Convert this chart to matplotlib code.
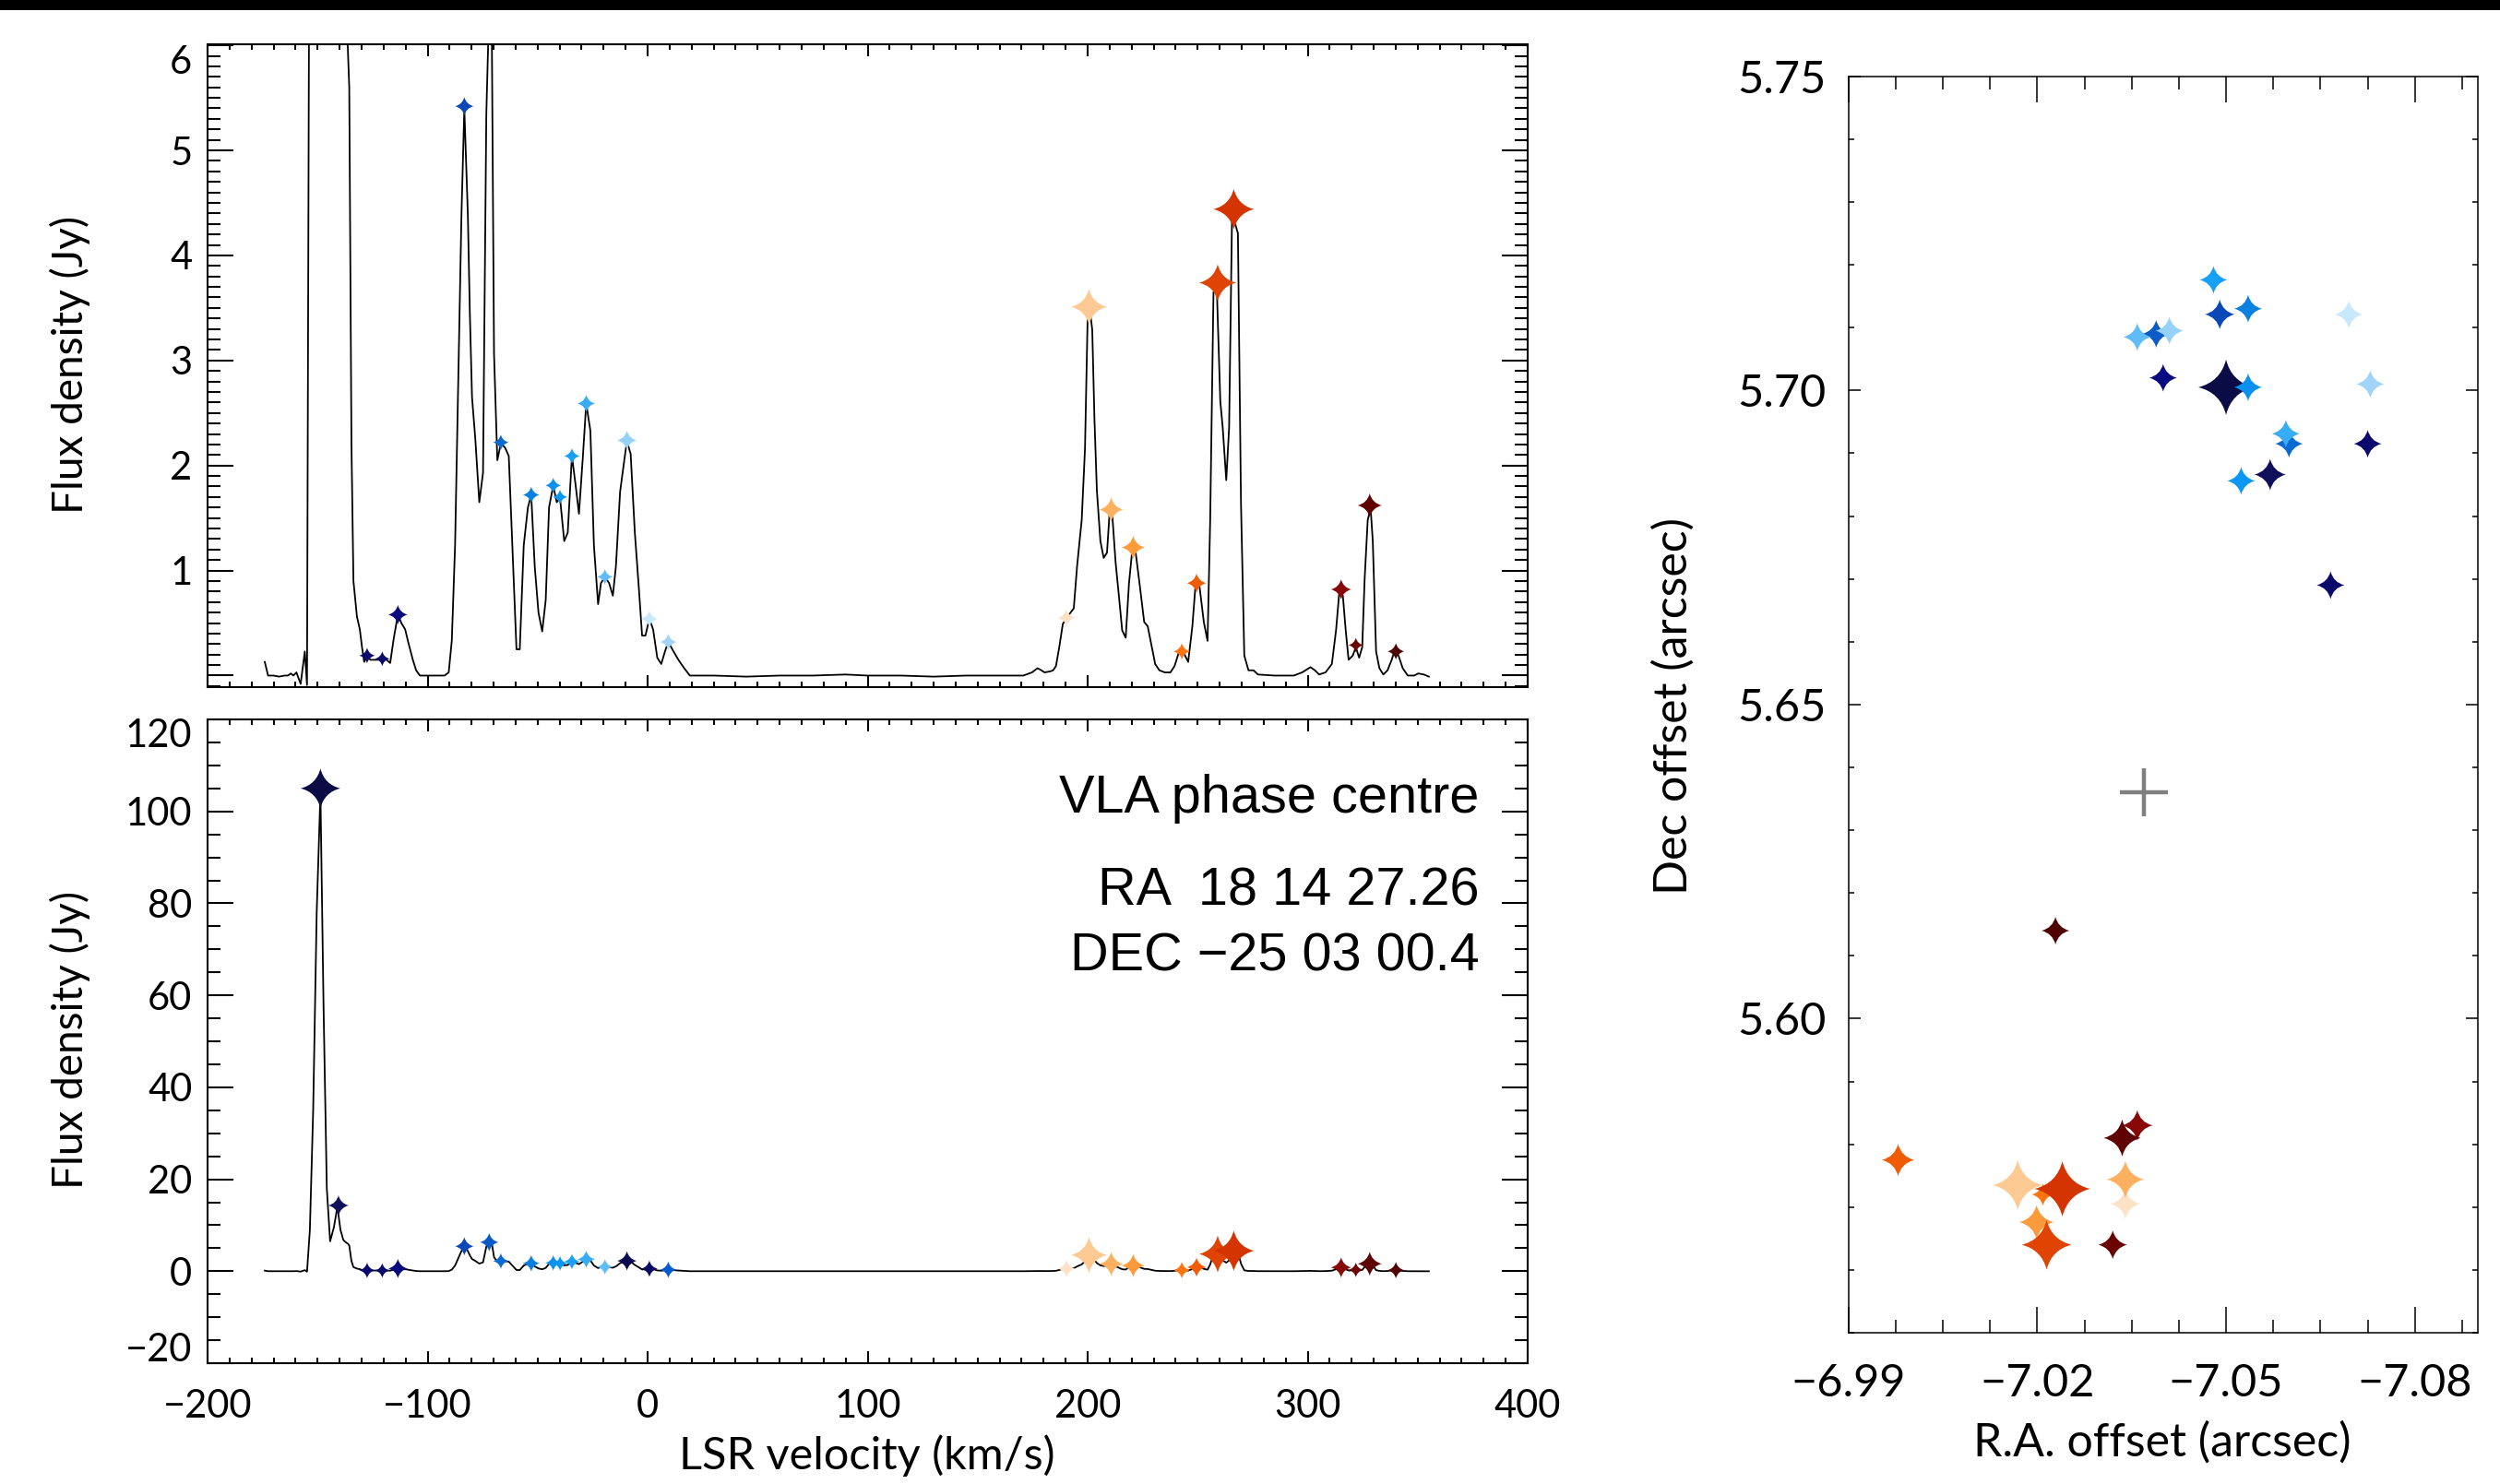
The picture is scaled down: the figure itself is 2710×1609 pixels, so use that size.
import matplotlib
matplotlib.use('Agg')
import matplotlib.pyplot as plt
from matplotlib.path import Path
from matplotlib.ticker import MultipleLocator, FixedLocator
from matplotlib.transforms import ScaledTranslation
from matplotlib.patches import Rectangle

# ---- spectrum (LSR velocity km/s, flux density Jy) ----
vel = [-174.0, -172.5, -170.0, -167.5, -165.0, -163.5, -162.1, -161.0, -159.6, -157.7,
       -155.8, -154.8, -153.5, -152.0, -150.4, -148.7, -147.3, -145.8, -144.3, -142.6,
       -141.0, -139.6, -138.3, -137.2, -136.3, -135.6, -134.6, -133.7, -132.1, -130.8,
       -129.8, -128.8, -127.5, -126.0, -124.0, -122.1, -120.6, -118.7, -117.0, -115.4,
       -113.5, -111.9, -110.2, -108.7, -106.7, -105.2, -103.5, -95.0, -92.3, -90.4,
       -89.0, -87.5, -86.0, -84.6, -83.3, -81.7, -80.8, -79.8, -78.3, -76.5,
       -74.8, -73.3, -72.1, -70.8, -69.8, -68.3, -66.7, -64.8, -63.1, -61.5,
       -59.6, -58.1, -56.3, -54.4, -52.9, -51.3, -49.6, -47.9, -46.3, -44.8,
       -42.9, -41.3, -39.8, -37.9, -36.3, -34.4, -32.7, -31.2, -29.4, -27.9,
       -26.0, -24.4, -22.5, -21.2, -19.4, -17.5, -15.8, -14.4, -12.5, -10.6,
       -9.4, -7.7, -5.8, -4.0, -2.5, -1.0, 0.8, 2.5, 4.4, 6.2,
       7.9, 9.4, 11.5, 14.0, 16.3, 19.2, 30.0, 45.0, 60.0, 75.0,
       90.0, 100.0, 115.0, 130.0, 145.0, 160.0, 170.8, 174.7, 177.2, 179.0,
       180.4, 183.0, 184.3, 185.6, 187.1, 188.7, 190.4, 191.9, 193.7, 195.2,
       197.3, 198.8, 200.0, 201.0, 202.1, 203.1, 204.2, 205.8, 207.3, 208.8,
       210.0, 211.1, 212.7, 214.2, 215.7, 217.3, 218.8, 220.3, 221.9, 223.8,
       225.7, 227.3, 228.8, 230.7, 232.6, 235.1, 237.6, 239.5, 241.9, 243.8,
       245.7, 247.6, 249.1, 250.9, 252.8, 254.5, 255.7, 257.2, 258.7, 260.3,
       261.4, 263.0, 264.3, 265.6, 267.2, 268.3, 269.7, 271.2, 273.1, 275.4,
       277.4, 285.0, 293.7, 297.5, 301.3, 303.3, 305.2, 308.1, 311.0, 312.9,
       314.4, 316.0, 317.3, 318.6, 320.5, 321.9, 323.4, 324.8, 325.9, 327.3,
       328.6, 329.6, 331.1, 332.6, 334.4, 336.3, 338.2, 339.7, 341.3, 343.2,
       345.5, 348.4, 350.3, 352.8, 355.1]
flux = [0.13, 0.00, 0.00, -0.01, 0.00, 0.00, 0.02, 0.00, 0.03, -0.08,
        0.23, -0.09, 9.0, 35.0, 78.0, 104.0, 58.0, 18.0, 6.5, 9.5,
        14.0, 9.0, 6.8, 6.3, 6.0, 5.6, 2.2, 0.9, 0.56, 0.44,
        0.27, 0.13, 0.19, 0.15, 0.15, 0.15, 0.16, 0.15, 0.12, 0.35,
        0.58, 0.50, 0.44, 0.31, 0.15, 0.05, 0.00, 0.00, 0.00, 0.03,
        0.33, 1.24, 2.85, 4.39, 5.40, 4.39, 3.46, 2.65, 2.25, 1.65,
        1.93, 5.35, 6.3, 6.1, 3.06, 2.05, 2.21, 2.17, 2.09, 1.24,
        0.25, 0.25, 1.24, 1.60, 1.72, 1.04, 0.60, 0.42, 0.72, 1.60,
        1.81, 1.65, 1.69, 1.28, 1.36, 2.09, 1.81, 1.54, 2.09, 2.59,
        2.33, 1.24, 0.68, 0.88, 0.94, 0.88, 0.76, 1.04, 1.75, 2.05,
        2.23, 2.11, 1.36, 0.84, 0.38, 0.38, 0.54, 0.44, 0.17, 0.11,
        0.23, 0.32, 0.24, 0.15, 0.08, 0.00, 0.00, -0.01, 0.00, 0.00,
        0.01, 0.00, 0.00, -0.01, 0.00, 0.00, 0.00, 0.03, 0.07, 0.05,
        0.03, 0.04, 0.05, 0.09, 0.27, 0.49, 0.55, 0.59, 0.64, 1.04,
        1.48, 2.16, 3.41, 3.49, 3.29, 2.44, 1.76, 1.28, 1.12, 1.17,
        1.56, 1.56, 1.08, 0.76, 0.43, 0.36, 0.88, 1.20, 1.16, 0.84,
        0.51, 0.47, 0.31, 0.11, 0.05, 0.03, 0.03, 0.09, 0.25, 0.21,
        0.13, 0.47, 0.88, 0.84, 0.51, 0.33, 1.48, 3.65, 3.69, 2.61,
        2.36, 1.86, 2.36, 4.33, 4.29, 4.21, 1.64, 0.19, 0.05, 0.05,
        0.01, 0.00, 0.00, 0.03, 0.08, 0.05, 0.01, 0.03, 0.11, 0.43,
        0.80, 0.76, 0.43, 0.15, 0.19, 0.27, 0.17, 0.27, 0.92, 1.48,
        1.60, 1.28, 0.23, 0.07, 0.01, 0.05, 0.15, 0.25, 0.19, 0.07,
        0.00, 0.00, 0.02, 0.01, -0.01]

# ---- maser spots: velocity, peak flux, offsets ----
spot_vel = [-148.7, -140.5, -127.5, -120.6, -113.5, -83.3, -72.0, -66.7, -52.9, -42.9,
            -39.8, -34.4, -27.9, -19.4, -9.4, 0.8, 9.4,
            190.4, 200.6, 210.7, 220.7, 242.8, 249.5, 259.1, 266.4, 315.2, 321.9, 328.2, 340.1]
spot_flux = [105.0, 14.3, 0.19, 0.16, 0.58, 5.42, 6.3, 2.22, 1.72, 1.81,
             1.70, 2.09, 2.59, 0.94, 2.24, 0.54, 0.32,
             0.55, 3.51, 1.58, 1.22, 0.23, 0.88, 3.74, 4.44, 0.82, 0.29, 1.62, 0.23]
spot_ra = [-7.0500, -7.0570, -7.0725, -7.0666, -7.0400, -7.0490, -7.0389, -7.0600, -7.0535, -7.0535,
           -7.0524, -7.0480, -7.0595, -7.0359, -7.0410, -7.0695, -7.0729,
           -7.0340, -7.0169, -7.0340, -7.0199, -7.0209, -6.9979, -7.0215, -7.0240, -7.0359, -7.0320, -7.0335, -7.0229]
spot_dec = [5.7005, 5.6866, 5.6915, 5.6690, 5.7020, 5.7121, 5.7090, 5.6915, 5.7130, 5.7005,
            5.6856, 5.7176, 5.6931, 5.7085, 5.7095, 5.7121, 5.7010,
            5.5705, 5.5735, 5.5744, 5.5676, 5.5720, 5.5775, 5.5640, 5.5729, 5.5830, 5.5640, 5.5810, 5.6140]
centre_ra = [-7.0369]
centre_dec = [5.6360]

# styles
spot_col = ['#0b0b45', '#10105a', '#0a0a6e', '#0a0a6a', '#0a0a80', '#0a48b8', '#0a5ac8', '#0a6ad0', '#0a80e0', '#0a90ee',
            '#0a98f4', '#18a0f4', '#38acf4', '#60bcf6', '#94d2f8', '#c8e8fc', '#a0d4f8',
            '#fde2c8', '#fdca94', '#fdb060', '#fd9a3c', '#fd7410', '#f05c06', '#e04404', '#d43400',
            '#880808', '#6a0202', '#5e0202', '#500000']
# the lower spectrum shows the last three blue spots in darker shades
spot_col_low = spot_col[:14] + ['#0a0a50', '#0a0a60', '#0a5ad0'] + spot_col[17:]
spot_px = [43, 22, 17, 16, 21, 20, 20, 17, 18, 17, 16, 17, 19, 17, 21, 18, 18,
           19, 39, 26, 25, 18, 21, 40, 44, 22, 16, 26, 18]
map_px = [60, 34, 30, 30, 30, 32, 30, 30, 30, 30, 30, 30, 30, 30, 30, 30, 30,
          32, 54, 40, 37, 24, 35, 54, 60, 33, 31, 40, 30]

c = 0.2
star = Path([(0, 1), (c, c), (1, 0), (c, -c), (0, -1), (-c, -c), (-1, 0), (-c, c), (0, 1), (0, 1)],
            [Path.MOVETO] + [Path.CURVE3] * 8 + [Path.CLOSEPOLY])

tick_font = dict(family=['Lato', 'DejaVu Sans'], weight='normal')
PX = 0.72  # points per pixel at dpi 100

fig = plt.figure(figsize=(27.1, 16.09), dpi=100)
fig.add_artist(Rectangle((0, 1 - 11 / 1609), 1, 11 / 1609, transform=fig.transFigure,
                         color='black', lw=0))

ax1 = fig.add_axes([225 / 2710, 1 - 745 / 1609, 1431 / 2710, 697 / 1609])
ax2 = fig.add_axes([225 / 2710, 1 - 1478 / 1609, 1431 / 2710, 698 / 1609])
ax3 = fig.add_axes([2003.6 / 2710, 1 - 1445 / 1609, 682.4 / 2710, 1362.3 / 1609])


def nudge(lab, dy):
    lab.set_transform(lab.get_transform() + ScaledTranslation(0, dy / 100, fig.dpi_scale_trans))


for ax, cols in ((ax1, spot_col), (ax2, spot_col_low)):
    ax.plot(vel, flux, color='black', lw=1.3, zorder=2)
    ax.scatter(spot_vel, spot_flux, s=[(p * PX) ** 2 for p in spot_px], c=cols,
               marker=star, linewidths=0, zorder=3)
    ax.set_xlim(-200, 400)
    ax.xaxis.set_major_locator(FixedLocator([-200, -100, 0, 100, 200, 300, 400]))
    ax.xaxis.set_minor_locator(MultipleLocator(10))
    ax.tick_params(which='both', direction='in', top=True, right=True, width=1.5, color='black')
    ax.tick_params(axis='x', which='major', length=9.4, pad=20)
    ax.tick_params(axis='x', which='minor', length=4.3)
    ax.tick_params(axis='y', which='major', length=20, pad=12)
    ax.tick_params(axis='y', which='minor', length=10)
    for s in ax.spines.values():
        s.set_linewidth(1.5)
    ax.set_ylabel('Flux density (Jy)', fontsize=33, **tick_font)
    ax.yaxis.set_label_coords(-0.104, 0.502)
    ax.yaxis.label.set_va('center')

ax1.set_ylim(-0.11, 6.01)
ax1.yaxis.set_major_locator(FixedLocator([0, 1, 2, 3, 4, 5, 6]))
ax1.yaxis.set_minor_locator(MultipleLocator(0.1))
ax1.set_yticklabels(['', '1', '2', '3', '4', '5', '6'], fontsize=30, **tick_font)
ax1.set_xticklabels([])
nudge(ax1.yaxis.get_major_ticks()[-1].label1, -15)

ax2.set_ylim(-20, 120)
ax2.yaxis.set_major_locator(FixedLocator([-20, 0, 20, 40, 60, 80, 100, 120]))
ax2.yaxis.set_minor_locator(MultipleLocator(5))
ax2.set_yticklabels(['\u221220', '0', '20', '40', '60', '80', '100', '120'], fontsize=30, **tick_font)
ax2.set_xticklabels(['\u2212200', '\u2212100', '0', '100', '200', '300', '400'], fontsize=30, **tick_font)
nudge(ax2.yaxis.get_major_ticks()[-1].label1, -15)
nudge(ax2.yaxis.get_major_ticks()[0].label1, 18)
ax2.set_xlabel('LSR velocity (km/s)', fontsize=35, **tick_font)
ax2.xaxis.set_label_coords(0.4997, -0.143)
ax2.xaxis.label.set_va('center')

txt = dict(family=['Liberation Sans', 'DejaVu Sans'], fontsize=41.5, ha='right',
           va='baseline', transform=ax2.transAxes)
ax2.text(0.9635, 0.8557, 'VLA phase centre', **txt)
ax2.text(0.9635, 0.7109, 'RA  18 14 27.26', **txt)
ax2.text(0.9635, 0.6103, 'DEC \u221225 03 00.4', **txt)

# ---- spot map ----
ax3.scatter(spot_ra, spot_dec, s=[(p * PX) ** 2 for p in map_px], c=spot_col,
            marker=star, linewidths=0, zorder=3)
ax3.plot(centre_ra, centre_dec, marker='+', ms=52 * PX, mew=3.2, color='#808080', ls='none', zorder=2)
ax3.set_xlim(-6.99, -7.09)
ax3.set_ylim(5.55, 5.75)
ax3.xaxis.set_major_locator(FixedLocator([-6.99, -7.02, -7.05, -7.08]))
ax3.xaxis.set_minor_locator(FixedLocator([-6.99 - 0.0075 * i for i in range(14)]))
ax3.yaxis.set_major_locator(FixedLocator([5.60, 5.65, 5.70, 5.75]))
ax3.yaxis.set_minor_locator(MultipleLocator(0.01))
ax3.set_xticklabels(['\u22126.99', '\u22127.02', '\u22127.05', '\u22127.08'], fontsize=35, **tick_font)
ax3.set_yticklabels(['5.60', '5.65', '5.70', '5.75'], fontsize=35, **tick_font)
nudge(ax3.yaxis.get_major_ticks()[-1].label1, -17)
ax3.tick_params(which='both', direction='in', top=True, right=True, width=1.1, color='black')
ax3.tick_params(axis='x', which='major', length=20, pad=24)
ax3.tick_params(axis='x', which='minor', length=10)
ax3.tick_params(axis='y', which='major', length=9.4, pad=17)
ax3.tick_params(axis='y', which='minor', length=4.3)
for s in ax3.spines.values():
    s.set_linewidth(1.1)
ax3.set_xlabel('R.A. offset (arcsec)', fontsize=36, **tick_font)
ax3.xaxis.set_label_coords(0.498, -0.0874)
ax3.xaxis.label.set_va('center')
ax3.set_ylabel('Dec offset (arcsec)', fontsize=36, **tick_font)
ax3.yaxis.set_label_coords(-0.278, 0.499)
ax3.yaxis.label.set_va('center')

fig.savefig('out.png', dpi=100)
